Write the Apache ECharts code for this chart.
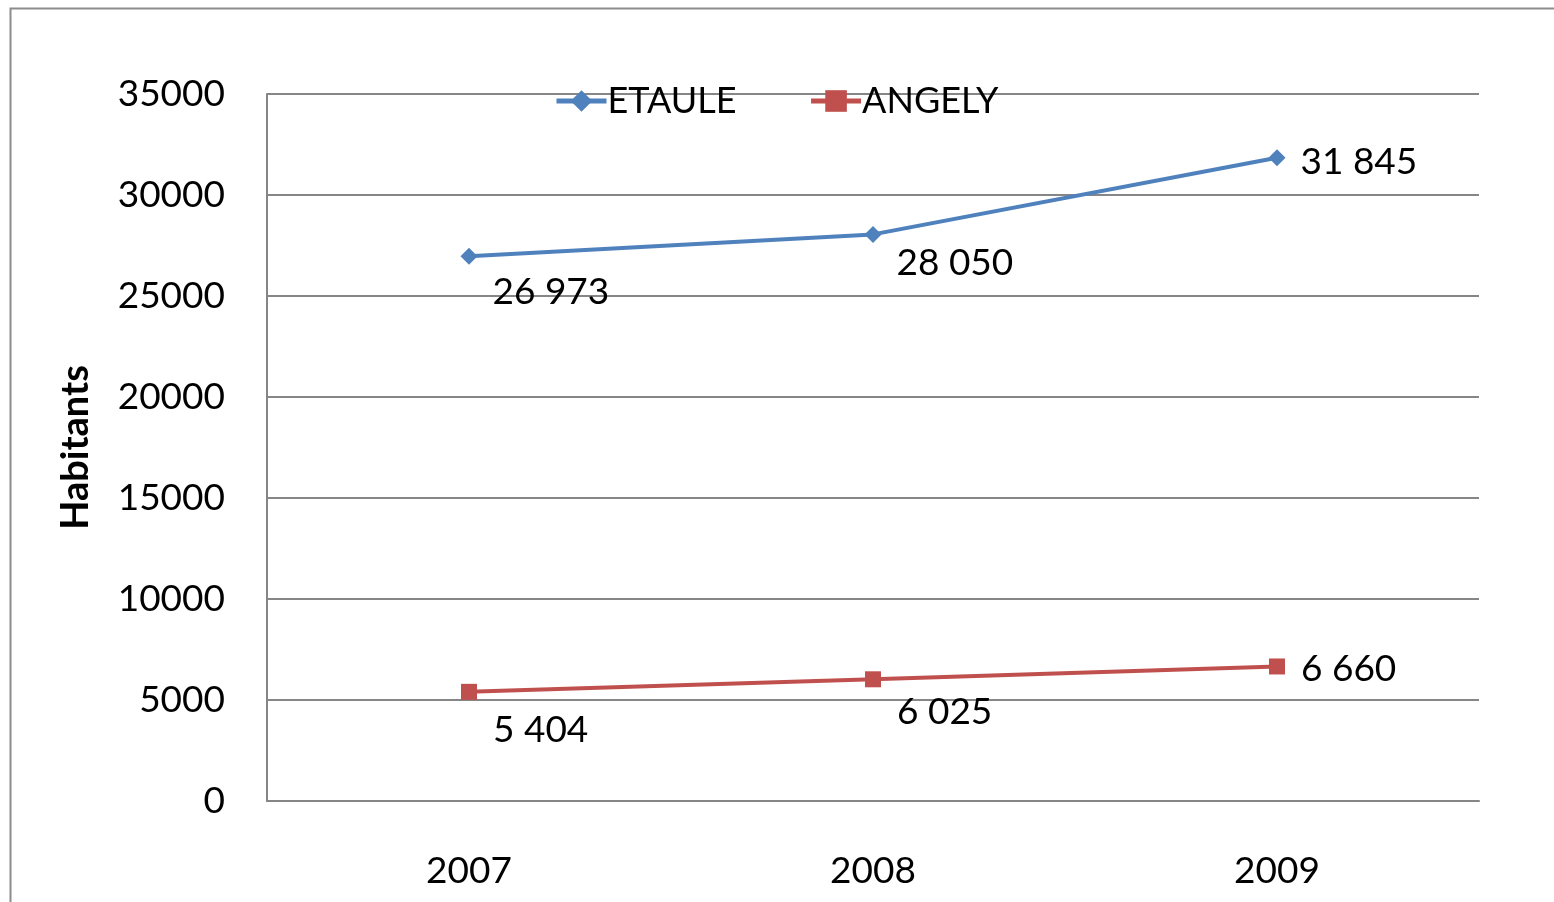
<!DOCTYPE html>
<html>
<head>
<meta charset="utf-8">
<script src="https://cdn.jsdelivr.net/npm/echarts@6/dist/echarts.min.js"></script>
<style>
html,body{margin:0;padding:0;background:#fff;}
#chart{width:1554px;height:902px;}
</style>
</head>
<body>
<div id="chart"></div>
<script>
const categories = ['2007', '2008', '2009'];
const etaule = [26973, 28050, 31845];
const angely = [5404, 6025, 6660];
const seriesNames = ['ETAULE', 'ANGELY'];
const yTicks = { min: 0, max: 35000, interval: 5000 };
const yAxisTitle = 'Habitants';

const FONT = 'Lato';
const fmt = v => String(v).replace(/\B(?=(\d{3})+(?!\d))/g, ' ');

// label placement (style only)
const etauleLabelOffsets = [[0, 36], [0, 29], [0, 4]];
const angelyLabelOffsets = [[0, 38], [0, 33], [0, 3]];

function buildData(values, offsets) {
  return values.map((v, i) => ({
    value: v,
    label: { offset: offsets[i] }
  }));
}

const chart = echarts.init(document.getElementById('chart'));
chart.setOption({
  animation: false,
  backgroundColor: '#fff',
  textStyle: { fontFamily: FONT },
  graphic: [{
    type: 'rect',
    shape: { x: 10.5, y: 8.5, width: 1560, height: 1000 },
    style: { fill: 'none', stroke: '#8c8c8c', lineWidth: 2 },
    silent: true
  }],
  grid: { left: 267, right: 75, top: 94, bottom: 101, containLabel: false },
  legend: {
    left: 549, top: 78,
    itemWidth: 50, itemHeight: 27, itemGap: 72,
    lineStyle: { width: 5 },
    textStyle: { fontFamily: FONT, fontSize: 36, color: '#000', padding: [0, 0, 0, -4] },
    data: seriesNames
  },
  xAxis: {
    type: 'category',
    data: categories,
    boundaryGap: true,
    axisLine: { show: true, lineStyle: { color: '#868686', width: 2 } },
    axisTick: { show: false },
    axisLabel: { color: '#000', fontFamily: FONT, fontSize: 37, margin: 52 }
  },
  yAxis: {
    type: 'value',
    min: yTicks.min, max: yTicks.max, interval: yTicks.interval,
    name: yAxisTitle,
    nameLocation: 'middle',
    nameGap: 172,
    nameTextStyle: { color: '#000', fontFamily: FONT, fontSize: 38, fontWeight: 'bold' },
    axisLine: { show: true, lineStyle: { color: '#868686', width: 2 } },
    axisTick: { show: false },
    splitLine: { show: true, lineStyle: { color: '#868686', width: 2 } },
    axisLabel: { color: '#000', fontFamily: FONT, fontSize: 37, margin: 42, formatter: v => String(v) }
  },
  series: [
    {
      name: seriesNames[0],
      type: 'line',
      data: buildData(etaule, etauleLabelOffsets),
      symbol: 'diamond',
      symbolSize: 17,
      lineStyle: { color: '#4F81BD', width: 4 },
      itemStyle: { color: '#4F81BD' },
      label: {
        show: true, position: 'right', distance: 15,
        color: '#000', fontFamily: FONT, fontSize: 37,
        formatter: p => fmt(p.value)
      }
    },
    {
      name: seriesNames[1],
      type: 'line',
      data: buildData(angely, angelyLabelOffsets),
      symbol: 'rect',
      symbolSize: 16,
      lineStyle: { color: '#C0504D', width: 4 },
      itemStyle: { color: '#C0504D' },
      label: {
        show: true, position: 'right', distance: 16,
        color: '#000', fontFamily: FONT, fontSize: 37,
        formatter: p => fmt(p.value)
      }
    }
  ]
});
</script>
</body>
</html>
